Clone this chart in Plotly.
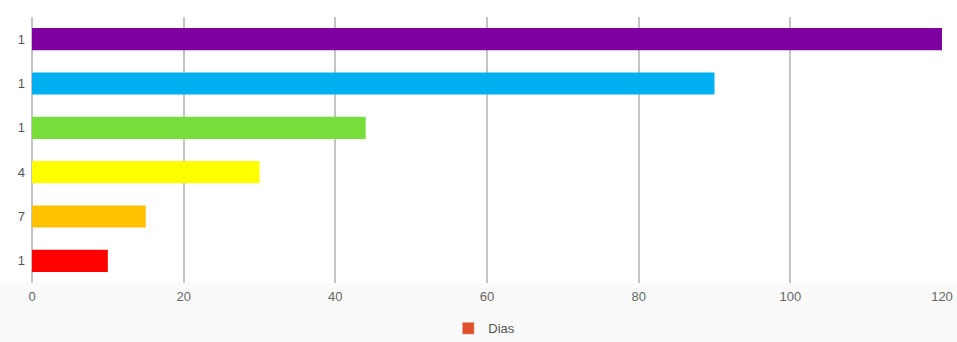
import plotly.graph_objects as go

categories = ["1", "1", "1", "4", "7", "1"]
values = [120, 90, 44, 30, 15, 10]
bar_colors = ["#7f00a0", "#00b0f0", "#77dd3a", "#ffff00", "#ffc000", "#ff0000"]
series_name = "Dias"
legend_color = "#e0502c"
x_ticks = [0, 20, 40, 60, 80, 100, 120]

positions = list(range(len(categories)))

fig = go.Figure()
fig.add_trace(go.Bar(
    x=values, y=positions, orientation="h",
    marker=dict(color=bar_colors, line=dict(width=0)),
    width=0.5, showlegend=False, name=series_name,
    hoverinfo="x",
))
fig.add_trace(go.Bar(
    x=[None], y=[None], orientation="h", name=series_name,
    marker=dict(color=legend_color), showlegend=True,
))

fig.update_layout(
    width=957, height=342,
    margin=dict(l=32, r=15, t=17, b=59, autoexpand=False),
    paper_bgcolor="white", plot_bgcolor="rgba(0,0,0,0)",
    font=dict(family="Liberation Sans, Arial, sans-serif", size=13, color="#666666"),
    showlegend=True,
    legend=dict(orientation="h", x=0.497, xanchor="center", xref="paper",
                y=0.04, yref="container", yanchor="middle",
                font=dict(size=13, color="#555555"), itemwidth=30,
                bgcolor="rgba(0,0,0,0)"),
    bargap=0.5,
    shapes=[dict(type="rect", xref="paper", yref="paper", x0=-0.05, x1=1.05,
                 y0=-0.25, y1=0, fillcolor="#fafafa", line=dict(width=0), layer="below")],
)
fig.update_xaxes(
    range=[0, 120], tickvals=x_ticks, ticktext=[str(t) for t in x_ticks],
    showgrid=True, gridcolor="#c4c4c4", gridwidth=2,
    zeroline=True, zerolinecolor="#c4c4c4", zerolinewidth=2,
    showline=False, ticks="", ticklabelstandoff=4, automargin=False,
    tickfont=dict(size=13, color="#666666"),
)
fig.update_yaxes(
    range=[len(categories) - 0.5, -0.5],
    tickvals=positions, ticktext=categories,
    showgrid=False, zeroline=False, showline=False, ticks="",
    ticklabelstandoff=6, automargin=False,
    tickfont=dict(size=13, color="#555555"),
)
fig.write_html("out.html")
